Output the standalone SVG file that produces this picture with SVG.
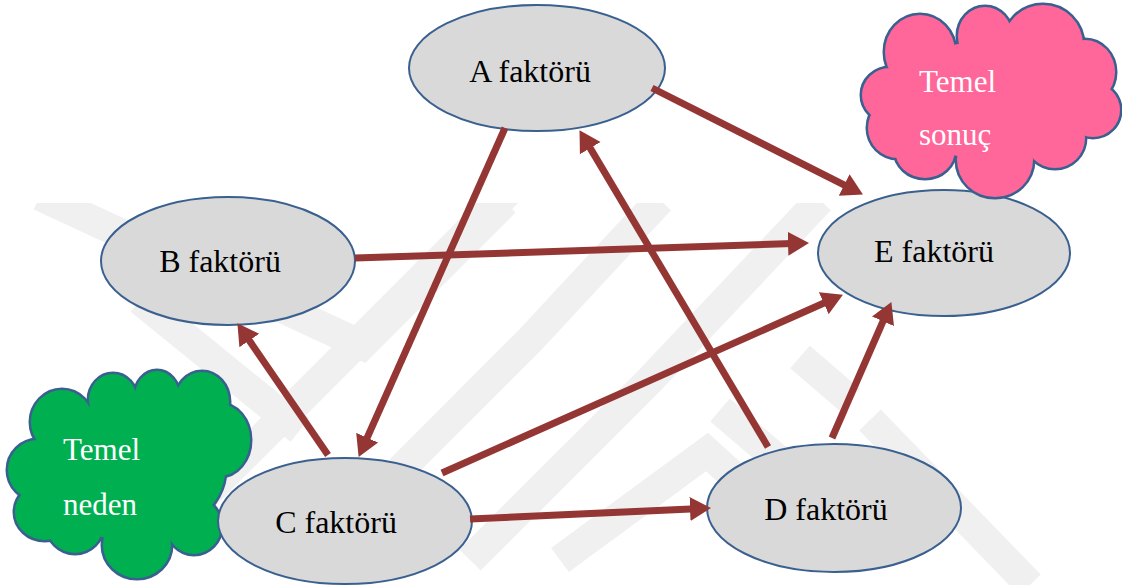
<svg xmlns="http://www.w3.org/2000/svg" width="1122" height="585" viewBox="0 0 1122 585">
<style>
.node ellipse{fill:#d9d9d9;stroke:#3a6090;stroke-width:2}
.lbl{fill:#000}
.wlbl{fill:#fff}
.conn line{stroke:#943634;stroke-width:7;marker-end:url(#ah)}
.wm{fill:none;stroke:#f0f0f0;stroke-width:30;stroke-linejoin:miter}
.cl-out{stroke:#3a6090;stroke-width:5}
</style>
<defs>
<marker id="ah" markerUnits="userSpaceOnUse" markerWidth="24" markerHeight="26" refX="12" refY="13" orient="auto">
<path d="M0,1 L21,13 L0,25 z" fill="#943634"/>
</marker>
<clipPath id="wmclip"><rect x="0" y="203" width="1122" height="382"/></clipPath>
</defs>
<rect width="1122" height="585" fill="#fff"/>
<g id="watermark" clip-path="url(#wmclip)">
<polyline class="wm" points="40,196 362,345 505,202"/>
<polyline class="wm" points="140,300 300,430"/>
<polyline class="wm" points="180,520 390,310 520,180"/>
<polyline class="wm" points="400,470 530,340 660,200"/>
<polyline class="wm" points="470,560 650,380 820,200"/>
<polyline class="wm" points="560,560 707,452 760,500"/>
<polyline class="wm" points="720,410 805,483"/>
<polyline class="wm" points="800,357 850,400"/>
<polyline class="wm" points="870,420 1030,585"/>
</g>
<g id="node-E" class="node"><ellipse cx="944" cy="253" rx="126" ry="63"/><text class="lbl" x="934" y="262" text-anchor="middle" font-size="32" font-family="'Liberation Serif', serif">E faktörü</text></g>
<g id="cloud-green">
<g class="cl-out" fill="#3a6090">
<ellipse cx="62" cy="422" rx="31" ry="32"/>
<ellipse cx="113" cy="400" rx="24" ry="26"/>
<ellipse cx="157" cy="396" rx="22" ry="25"/>
<ellipse cx="202" cy="402" rx="27" ry="30"/>
<ellipse cx="220" cy="440" rx="30" ry="36"/>
<ellipse cx="38" cy="470" rx="30" ry="30"/>
<ellipse cx="45" cy="512" rx="30" ry="28"/>
<ellipse cx="75" cy="525" rx="28" ry="28"/>
<ellipse cx="137" cy="545" rx="34" ry="33"/>
<ellipse cx="194" cy="526" rx="27" ry="28"/>
<ellipse cx="130" cy="470" rx="95" ry="70"/>
</g>
<g fill="#00b050">
<ellipse cx="62" cy="422" rx="31" ry="32"/>
<ellipse cx="113" cy="400" rx="24" ry="26"/>
<ellipse cx="157" cy="396" rx="22" ry="25"/>
<ellipse cx="202" cy="402" rx="27" ry="30"/>
<ellipse cx="220" cy="440" rx="30" ry="36"/>
<ellipse cx="38" cy="470" rx="30" ry="30"/>
<ellipse cx="45" cy="512" rx="30" ry="28"/>
<ellipse cx="75" cy="525" rx="28" ry="28"/>
<ellipse cx="137" cy="545" rx="34" ry="33"/>
<ellipse cx="194" cy="526" rx="27" ry="28"/>
<ellipse cx="130" cy="470" rx="95" ry="70"/>
</g>
<text class="wlbl" x="63" y="460" font-size="31" font-family="'Liberation Serif', serif">Temel</text>
<text class="wlbl" x="63" y="515" font-size="31" font-family="'Liberation Serif', serif">neden</text>
</g>
<g id="cloud-pink">
<g class="cl-out" fill="#3a6090">
<ellipse cx="890" cy="95" rx="28" ry="27"/>
<ellipse cx="920" cy="52" rx="35" ry="37"/>
<ellipse cx="985" cy="36" rx="27" ry="29"/>
<ellipse cx="1043" cy="45" rx="40" ry="40"/>
<ellipse cx="1085" cy="72" rx="30" ry="32"/>
<ellipse cx="1093" cy="110" rx="27" ry="27"/>
<ellipse cx="1055" cy="138" rx="30" ry="30"/>
<ellipse cx="995" cy="160" rx="38" ry="37"/>
<ellipse cx="925" cy="150" rx="30" ry="28"/>
<ellipse cx="898" cy="128" rx="30" ry="30"/>
<ellipse cx="990" cy="100" rx="90" ry="60"/>
</g>
<g fill="#ff6699">
<ellipse cx="890" cy="95" rx="28" ry="27"/>
<ellipse cx="920" cy="52" rx="35" ry="37"/>
<ellipse cx="985" cy="36" rx="27" ry="29"/>
<ellipse cx="1043" cy="45" rx="40" ry="40"/>
<ellipse cx="1085" cy="72" rx="30" ry="32"/>
<ellipse cx="1093" cy="110" rx="27" ry="27"/>
<ellipse cx="1055" cy="138" rx="30" ry="30"/>
<ellipse cx="995" cy="160" rx="38" ry="37"/>
<ellipse cx="925" cy="150" rx="30" ry="28"/>
<ellipse cx="898" cy="128" rx="30" ry="30"/>
<ellipse cx="990" cy="100" rx="90" ry="60"/>
</g>
<text class="wlbl" x="919" y="92" font-size="31" font-family="'Liberation Serif', serif">Temel</text>
<text class="wlbl" x="919" y="145" font-size="31" font-family="'Liberation Serif', serif">sonuç</text>
</g>
<g id="node-A" class="node"><ellipse cx="537" cy="68" rx="128" ry="63"/><text class="lbl" x="530" y="82" text-anchor="middle" font-size="32" font-family="'Liberation Serif', serif">A faktörü</text></g>
<g id="node-B" class="node"><ellipse cx="228" cy="261" rx="127" ry="64"/><text class="lbl" x="220" y="272" text-anchor="middle" font-size="32" font-family="'Liberation Serif', serif">B faktörü</text></g>
<g id="node-C" class="node"><ellipse cx="345" cy="521" rx="127" ry="63"/><text class="lbl" x="336" y="533" text-anchor="middle" font-size="32" font-family="'Liberation Serif', serif">C faktörü</text></g>
<g id="node-D" class="node"><ellipse cx="834" cy="508" rx="127" ry="64"/><text class="lbl" x="826" y="520" text-anchor="middle" font-size="32" font-family="'Liberation Serif', serif">D faktörü</text></g>
<g id="connectors" class="conn">
<line x1="652" y1="88" x2="854.9" y2="190.4"/>
<line x1="355" y1="258" x2="800" y2="243.3"/>
<line x1="505" y1="128" x2="362.3" y2="448.7"/>
<line x1="768" y1="447" x2="584.1" y2="137.9"/>
<line x1="328" y1="455" x2="242.5" y2="330.6"/>
<line x1="442" y1="473" x2="834.7" y2="298.3"/>
<line x1="832" y1="438" x2="887.8" y2="310.3"/>
<line x1="470" y1="519" x2="702" y2="508.4"/>
</g>
</svg>
